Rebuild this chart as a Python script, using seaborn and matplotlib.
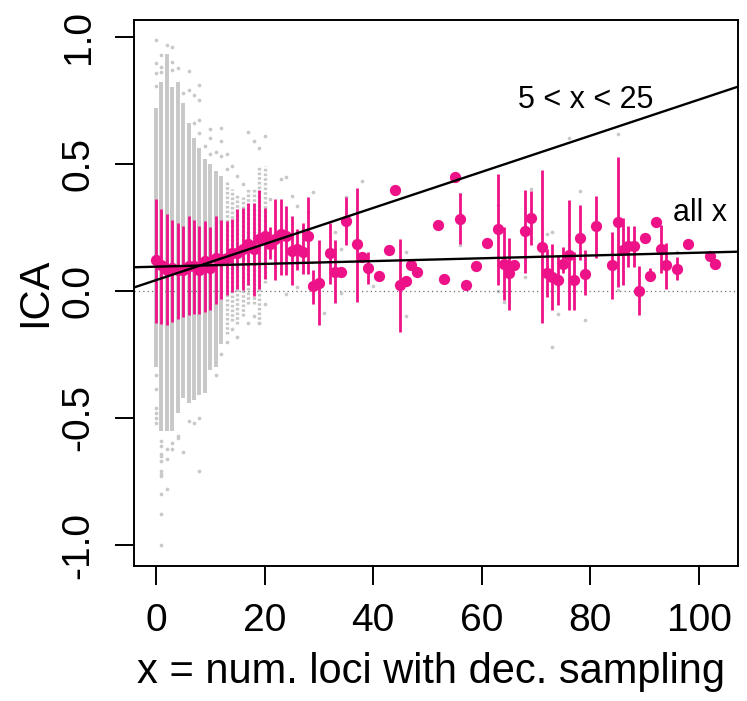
import matplotlib
matplotlib.use("Agg")
import matplotlib.pyplot as plt
import seaborn as sns
import numpy as np
import pandas as pd

nan = np.nan

# ---- magenta summaries (x, mean, interval) ----
mean_x = [0, 1, 2, 3, 4, 5, 6, 7, 8, 9, 10, 11, 12, 13, 14, 15, 16, 17, 18, 19, 20,
          21, 22, 23, 24, 25, 26, 27, 28, 29, 30, 32, 33, 34, 35, 37, 38, 39,
          41, 43, 44, 45, 46, 47, 48, 52, 53, 55, 56, 57, 59,
          61, 63, 64, 65, 66, 68, 69, 71, 72, 73, 74, 75, 76, 77, 78, 79,
          81, 84, 85, 86, 87, 88, 89, 90, 91, 92, 93, 94, 96, 98, 102, 103]
mean_y = [0.120, 0.100, 0.083, 0.088, 0.083, 0.083, 0.096, 0.096, 0.083, 0.117, 0.090,
          0.131, 0.127, 0.131, 0.149, 0.147, 0.166, 0.183, 0.166, 0.205, 0.215,
          0.186, 0.205, 0.225, 0.215, 0.157, 0.166, 0.153, 0.215, 0.018, 0.031,
          0.149, 0.074, 0.076, 0.275, 0.183, 0.133, 0.091,
          0.058, 0.162, 0.396, 0.024, 0.040, 0.100, 0.075, 0.258, 0.048, 0.448, 0.284, 0.023, 0.096,
          0.190, 0.243, 0.107, 0.070, 0.100, 0.235, 0.288, 0.172, 0.070, 0.054, 0.041, 0.107,
          0.140, 0.041, 0.209, 0.068,
          0.254, 0.100, 0.271, 0.162, 0.175, 0.175, -0.001, 0.208, 0.058, 0.271, 0.163, 0.100,
          0.087, 0.186, 0.136, 0.107]
ci_lo = [-0.127, -0.132, -0.136, -0.123, -0.112, -0.103, -0.096, -0.092, -0.090, -0.083, -0.074,
         -0.053, -0.031, -0.018, -0.005, 0.009, 0.002, 0.022, -0.022, 0.009, 0.045,
         0.127, 0.041, 0.061, 0.061, 0.022, 0.081, 0.068, 0.068, -0.050, -0.136,
         0.028, -0.048, nan, 0.179, -0.044, nan, 0.028,
         nan, nan, nan, -0.162, nan, nan, nan, nan, nan, nan, 0.186, nan, nan,
         nan, 0.022, -0.037, -0.074, nan, 0.070, 0.179, -0.127, -0.024, -0.077, -0.057, 0.070,
         -0.077, -0.077, 0.120, -0.018,
         0.131, -0.031, 0.015, 0.022, 0.094, 0.094, -0.096, nan, 0.040, nan, 0.070, 0.009,
         0.041, nan, nan, nan]
ci_hi = [0.363, 0.321, 0.301, 0.278, 0.267, 0.254, 0.293, 0.280, 0.254, 0.275, 0.251,
         0.293, 0.277, 0.275, 0.284, 0.321, 0.327, 0.346, 0.346, 0.396, 0.324,
         0.251, 0.363, 0.363, 0.333, 0.293, 0.245, 0.265, 0.369, 0.081, 0.199,
         0.265, 0.199, nan, 0.369, 0.406, nan, 0.153,
         nan, nan, nan, 0.205, nan, nan, nan, nan, nan, nan, 0.384, nan, nan,
         nan, 0.461, 0.251, 0.209, nan, 0.398, 0.393, 0.474, 0.166, 0.186, 0.140, 0.172,
         0.356, 0.153, 0.337, 0.159,
         0.372, 0.231, 0.527, 0.288, 0.255, 0.255, 0.096, nan, 0.088, nan, 0.257, 0.188,
         0.134, nan, nan, nan]

# ---- gray raw values: dense column extents ----
col_x = list(range(0, 21))
col_lo = [-0.30, -0.55, -0.55, -0.55, -0.48, -0.42, -0.44, -0.43, -0.41, -0.40, -0.31,
          -0.30, -0.21, -0.17, -0.12, -0.13, -0.10, -0.05, -0.05, -0.13, 0.03]
col_hi = [0.72, 0.82, 0.93, 0.80, 0.82, 0.74, 0.66, 0.60, 0.56, 0.52, 0.50,
          0.47, 0.45, 0.43, 0.40, 0.38, 0.37, 0.40, 0.40, 0.49, 0.49]

# ---- gray raw values: scattered points ----
pt_x = [0, 0, 0, 0, 0, 0, 0, 0, 0, 0,
        1, 1, 1, 1, 1, 1, 1, 1, 1, 1, 1, 1, 1, 1,
        2, 2, 2, 2, 3, 3, 3, 3, 3, 4, 4, 4, 5, 5, 6, 6, 6, 7, 7, 7,
        8, 8, 8, 8, 8, 8, 9, 10, 10, 10, 11, 11, 12, 12, 12, 12, 13, 13, 13,
        14, 14, 15, 15, 16, 17, 17, 18, 18, 19, 19, 20, 20,
        21, 23, 24, 25, 26, 28, 29, 38, 31, 24, 26, 33, 34, 34, 40, 35,
        46, 46, 56, 56, 69, 78, 73, 79, 74, 63, 72, 73, 68, 63, 64, 76, 85, 85, 96]
pt_y = [0.807, 0.858, 0.894, 0.986, -0.33, -0.385, -0.46, -0.48, -0.50, -0.52,
        0.927, 0.88, 0.86, -0.59, -0.61, -0.64, -0.65, -0.67, -0.71, -0.72, -0.73, -0.80, -0.877, -1.0,
        0.968, -0.62, -0.66, -0.78, 0.96, 0.90, 0.87, -0.60, -0.62, 0.875, -0.57, -0.58,
        0.776, -0.635, 0.865, 0.79, -0.51, 0.77, 0.66, -0.52,
        0.81, 0.75, 0.67, 0.62, -0.50, -0.71, 0.57, 0.637, 0.60, 0.54, 0.547, -0.33,
        0.64, 0.59, 0.53, -0.25, 0.54, 0.48, -0.20,
        0.49, -0.15, 0.45, -0.18, 0.42, 0.625, -0.127, 0.59, -0.10, 0.56, -0.127, 0.61, -0.05,
        0.363, 0.438, 0.448, 0.372, 0.333, 0.31, 0.39, 0.43, -0.087, -0.011, 0.015, 0.232,
        0.163, -0.008, 0.021, 0.37,
        0.153, -0.10, 0.18, 0.38, 0.40, 0.393, -0.22, -0.116, -0.09, 0.337, 0.225, 0.23,
        0.054, 0.001, -0.044, 0.60, 0.616, 0.005, 0.153]

# ---- fitted lines ----
line_labels = ["5 < x < 25", "all x"]
line_intercepts = [0.042, 0.095]
line_slopes = [0.0071, 0.00055]
label_x = [79.2, 100.2]
label_y = [0.75, 0.305]

# ---- style ----
sns.set_style("ticks")
plt.rcParams["font.family"] = ["Liberation Sans", "DejaVu Sans"]
plt.rcParams["axes.unicode_minus"] = False

PINK = "#EE1289"
GRAY = "#C8C8C8"

W, H = 747, 701
fig = plt.figure(figsize=(W / 100, H / 100), dpi=100)
L, R, T, B = 133.6, 737.7, 20.0, 565.5
ax = fig.add_axes([L / W, 1 - B / H, (R - L) / W, (B - T) / H])

# gray dense columns
col_x_a = np.array(col_x)
col_lo_a = np.array(col_lo)
col_hi_a = np.array(col_hi)
solid = col_x_a <= 12
ax.vlines(col_x_a[solid], col_lo_a[solid], col_hi_a[solid], color=GRAY, lw=2.8, zorder=1)
ax.vlines(col_x_a[~solid], col_lo_a[~solid], col_hi_a[~solid], color=GRAY, lw=2.4,
          linestyles=[(0, (0.8, 0.6))], zorder=1)

raw = pd.DataFrame({"x": pt_x, "y": pt_y})
sns.scatterplot(data=raw, x="x", y="y", color=GRAY, s=7, linewidth=0, ax=ax,
                legend=False, zorder=1)

ax.axhline(0, color="#707070", lw=0.9, ls=(0, (1, 2.5)), zorder=1.5)

summ = pd.DataFrame({"x": mean_x, "y": mean_y, "lo": ci_lo, "hi": ci_hi})
bars = summ.dropna()
ax.vlines(bars["x"], bars["lo"], bars["hi"], color=PINK, lw=2.0, zorder=3)
sns.scatterplot(data=summ, x="x", y="y", color=PINK, s=66, linewidth=0, ax=ax,
                legend=False, zorder=4)

for b0, m in zip(line_intercepts, line_slopes):
    ax.axline((0, b0), slope=m, color="black", lw=1.7, zorder=5)
for t, tx, ty in zip(line_labels, label_x, label_y):
    ax.text(tx, ty, t, fontsize=22, ha="center", va="center", color="black", zorder=6)

ax.set_xlim(-4.12, 107.12)
ax.set_ylim(-1.08, 1.065)
ax.set_xticks([0, 20, 40, 60, 80, 100])
ax.set_yticks([-1.0, -0.5, 0.0, 0.5, 1.0])
ax.set_yticklabels(["-1.0", "-0.5", "0.0", "0.5", "1.0"])

for s in ax.spines.values():
    s.set_visible(True)
    s.set_color("black")
    s.set_linewidth(1.4)

ax.tick_params(axis="both", direction="out", length=13.7, width=1.4, colors="black",
               labelsize=28)
ax.tick_params(axis="x", pad=13)
ax.tick_params(axis="y", pad=13)
for lbl in ax.get_yticklabels():
    lbl.set_rotation(90)
    lbl.set_va("center")

ax.set_xlabel("x = num. loci with dec. sampling", fontsize=30, color="black")
ax.xaxis.label.set_va("baseline")
ax.xaxis.set_label_coords(0.492, -0.2154)
ax.set_ylabel("ICA", fontsize=30, color="black")
ax.yaxis.label.set_va("center")
ax.yaxis.set_label_coords(-0.1632, 0.5)

fig.savefig("out.png", dpi=100)
